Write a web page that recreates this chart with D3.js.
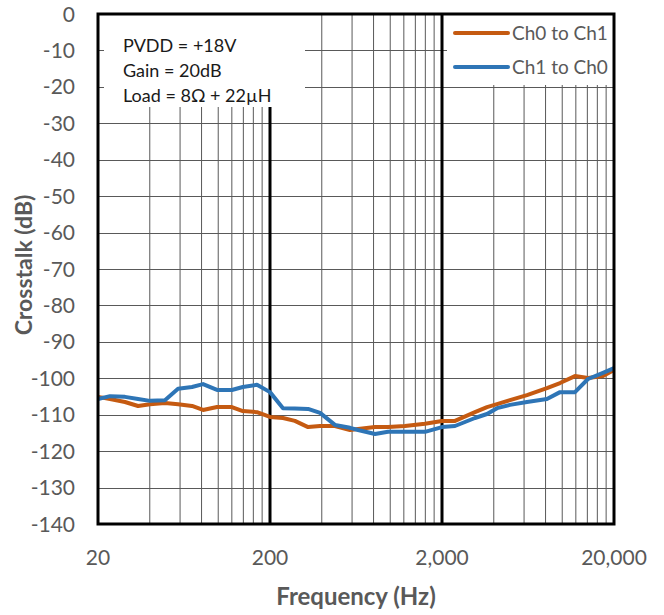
<!DOCTYPE html>
<html><head><meta charset="utf-8">
<script src="https://cdn.jsdelivr.net/npm/d3@7"></script>
<style>html,body{margin:0;padding:0;background:#fff;}svg{display:block;}</style>
</head><body>
<script>
// ---- data ----
const freqs = [20, 23.5, 28.7, 34.2, 40.1, 49, 58.4, 70.4, 81.6, 98.4, 120, 139, 168, 200, 238, 279, 333, 391, 477, 584, 650, 816, 971, 1218, 1592, 2000, 2380, 3110, 3654, 4178, 4970, 6238, 8150, 9710, 11860, 14120, 17260, 20000];
const ch0toCh1 = [-105.1, -105.7, -106.5, -107.6, -107.1, -106.8, -107.1, -107.6, -108.7, -107.9, -107.9, -109.0, -109.3, -110.6, -110.9, -111.7, -113.4, -113.1, -113.1, -114.2, -113.9, -113.4, -113.4, -113.1, -112.5, -111.7, -111.7, -109.3, -107.9, -107.1, -106.0, -104.6, -102.7, -101.3, -99.4, -99.9, -99.4, -97.7];
const ch1toCh0 = [-105.7, -104.9, -105.1, -105.7, -106.2, -106.0, -102.9, -102.4, -101.6, -103.2, -103.2, -102.4, -101.8, -103.8, -108.2, -108.3, -108.4, -109.5, -112.8, -113.6, -114.2, -115.3, -114.7, -114.7, -114.7, -113.4, -113.1, -110.9, -109.8, -108.2, -107.3, -106.5, -105.7, -103.8, -103.8, -100.2, -98.5, -97.2];
const seriesNames = ["Ch0 to Ch1", "Ch1 to Ch0"];
const xTickValues = [20, 200, 2000, 20000];
const xTickLabels = ["20", "200", "2,000", "20,000"];
const yTickValues = [0, -10, -20, -30, -40, -50, -60, -70, -80, -90, -100, -110, -120, -130, -140];
const annotationLines = ["PVDD = +18V", "Gain = 20dB", "Load = 8\u03A9 + 22\u00B5H"];

// ---- layout ----
const W = 664, H = 615;
const L = 98, R = 614, T = 14, B = 524;
const colors = ["#C55A11", "#2E75B6"];
const font = "Lato, 'Open Sans', sans-serif";
const grey = "#595959";
const gridColor = "#595959";

const svg = d3.select("body").append("svg").attr("width", W).attr("height", H);
const x = d3.scaleLog().domain([20, 20000]).range([L, R]);
const y = d3.scaleLinear().domain([-140, 0]).range([B, T]);

// minor vertical gridlines (multiples of decade start)
const minor = [];
[20, 200, 2000].forEach(d => { for (let k = 2; k <= 9; k++) minor.push(d * k); });
svg.append("g").selectAll("line").data(minor).join("line")
  .attr("x1", d => x(d)).attr("x2", d => x(d)).attr("y1", T).attr("y2", B)
  .attr("stroke", gridColor).attr("stroke-width", 1);

// horizontal gridlines
svg.append("g").selectAll("line").data(yTickValues).join("line")
  .attr("x1", L).attr("x2", R).attr("y1", d => Math.round(y(d)) + 0.5).attr("y2", d => Math.round(y(d)) + 0.5)
  .attr("stroke", gridColor).attr("stroke-width", 1);

// major decade lines
svg.append("g").selectAll("line").data([200, 2000]).join("line")
  .attr("x1", d => x(d)).attr("x2", d => x(d)).attr("y1", T).attr("y2", B)
  .attr("stroke", "#000").attr("stroke-width", 3);

// annotation box
svg.append("rect").attr("x", 104).attr("y", T).attr("width", 201).attr("height", 93).attr("fill", "#fff");
svg.append("g").selectAll("text").data(annotationLines).join("text")
  .attr("x", 123).attr("y", (d, i) => 52 + i * 25)
  .attr("font-family", font).attr("font-size", 18).attr("fill", "#1a1a1a")
  .text(d => d);

// legend box
svg.append("rect").attr("x", 447).attr("y", T).attr("width", R - 447).attr("height", 71).attr("fill", "#fff");
const leg = svg.append("g").selectAll("g").data(seriesNames).join("g")
  .attr("transform", (d, i) => `translate(0,${33 + i * 34})`);
leg.append("line").attr("x1", 455).attr("x2", 508).attr("y1", 0).attr("y2", 0)
  .attr("stroke", (d, i) => colors[i]).attr("stroke-width", 4).attr("stroke-linecap", "round");
leg.append("text").attr("x", 512).attr("y", 0).attr("dy", "0.35em")
  .attr("font-family", font).attr("font-size", 19).attr("fill", grey).text(d => d);

// series
const line = d3.line().x((d, i) => x(freqs[i])).y(d => y(d));
[ch0toCh1, ch1toCh0].forEach((s, i) => {
  svg.append("path").datum(s).attr("d", line).attr("fill", "none")
    .attr("stroke", colors[i]).attr("stroke-width", 4).attr("stroke-linejoin", "round");
});

// frame
svg.append("rect").attr("x", L).attr("y", T).attr("width", R - L).attr("height", B - T)
  .attr("fill", "none").attr("stroke", "#000").attr("stroke-width", 3);

// y tick labels
svg.append("g").selectAll("text").data(yTickValues).join("text")
  .attr("x", 75).attr("y", d => y(d)).attr("dy", "0.36em").attr("text-anchor", "end")
  .attr("font-family", font).attr("font-size", 21).attr("fill", grey).text(d => d);

// x tick labels
svg.append("g").selectAll("text").data(xTickValues).join("text")
  .attr("x", d => x(d)).attr("y", 565).attr("text-anchor", "middle")
  .attr("font-family", font).attr("font-size", 21).attr("fill", grey).text((d, i) => xTickLabels[i]);

// axis titles
svg.append("text").attr("x", (L + R) / 2).attr("y", 605).attr("text-anchor", "middle")
  .attr("font-family", font).attr("font-weight", "bold").attr("font-size", 24).attr("fill", grey)
  .text("Frequency (Hz)");
svg.append("text").attr("transform", `translate(32,${(T + B) / 2 - 4}) rotate(-90)`).attr("text-anchor", "middle")
  .attr("font-family", font).attr("font-weight", "bold").attr("font-size", 23).attr("fill", grey)
  .text("Crosstalk (dB)");
</script>
</body></html>
